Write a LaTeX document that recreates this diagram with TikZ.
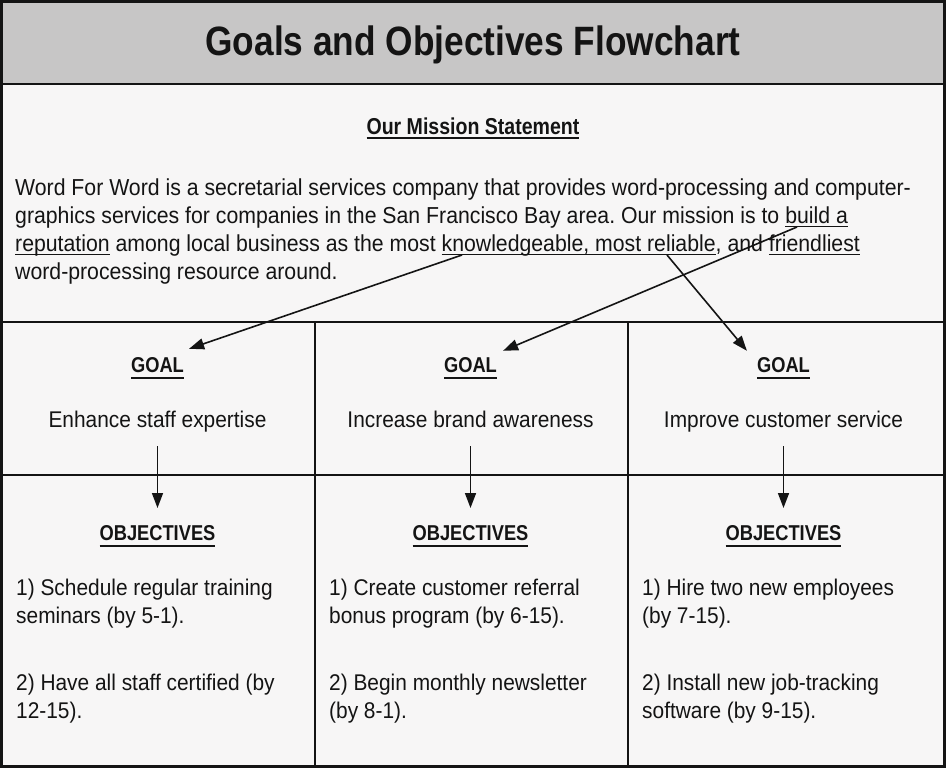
\documentclass[tikz,border=0pt]{standalone}
\usepackage{fontspec}
\setmainfont{Liberation Sans}[FakeStretch=0.92]
\newfontfamily\boldfam{Liberation Sans Bold}[FakeStretch=0.85]
\newfontfamily\titlefam{Liberation Sans Bold}[FakeStretch=0.86]
\usetikzlibrary{arrows.meta}
\frenchspacing
\definecolor{paper}{HTML}{F7F6F6}
\definecolor{band}{HTML}{C7C6C6}
\definecolor{ink}{HTML}{141414}
\newsavebox\ulbox
\newcommand\ulthin[1]{\sbox\ulbox{#1}\rlap{\rule[-4pt]{\wd\ulbox}{1.5pt}}\usebox\ulbox}
\newcommand\ulbold[1]{\sbox\ulbox{#1}\rlap{\rule[-6.5pt]{\wd\ulbox}{2pt}}\usebox\ulbox}
\tikzset{
  x=1pt, y=-1pt,
  frame/.style={draw=ink, line width=2.5pt},
  rule/.style={draw=ink, line width=2pt},
  txt/.style={inner sep=0pt, text=ink, font=\fontsize{22.7}{28}\selectfont},
  bodytxt/.style={txt, font=\fontsize{23.1}{28}\selectfont},
  hd/.style={inner sep=0pt, text=ink, font=\boldfam\fontsize{21.5}{26}\selectfont},
  ttl/.style={inner sep=0pt, text=ink, font=\titlefam\fontsize{41}{48}\selectfont},
  arr/.style={draw=ink, line width=1.6pt, -{Triangle[length=15pt,width=11pt]}},
}
\begin{document}
\begin{tikzpicture}
\useasboundingbox (0,0) rectangle (946,768);
\fill[paper] (0,0) rectangle (946,768);
\fill[band] (1.5,1.5) rectangle (944.5,84);
% grid lines
\draw[frame] (1.5,84) -- (944.5,84);
\draw[rule] (1.5,322) -- (944.5,322);
\draw[rule] (1.5,475) -- (944.5,475);
\draw[rule] (315,322) -- (315,766.5);
\draw[rule] (628,322) -- (628,766.5);
\draw[frame] (1.5,1.5) rectangle (944.5,766.5);

% title
\node[ttl, anchor=base] (title) at (473,56) {Goals and Objectives Flowchart};

% mission
\node[hd, anchor=base, font=\boldfam\fontsize{23}{28}\selectfont] (mission) at (473,135) {\ulthin{Our Mission Statement}};
\node[bodytxt, anchor=base west] (b1) at (15,195) {Word For Word is a secretarial services company that provides word-processing and computer-};
\node[bodytxt, anchor=base west] (b2) at (15,223) {graphics services for companies in the San Francisco Bay area. Our mission is to \ulthin{build a}};
\node[bodytxt, anchor=base west] (b3) at (15,251) {\ulthin{reputation} among local business as the most \ulthin{knowledgeable, most reliable}, and \ulthin{friendliest}};
\node[bodytxt, anchor=base west] (b4) at (15,279) {word-processing resource around.};

\coordinate (kw) at (462,255);
\coordinate (bd) at (797,227);
\coordinate (rl) at (667,255);

% goals
\node[hd, anchor=base] (g1) at (157.5,372) {\ulbold{GOAL}};
\node[hd, anchor=base] (g2) at (470.5,372) {\ulbold{GOAL}};
\node[hd, anchor=base] (g3) at (783.5,372) {\ulbold{GOAL}};
\node[txt, anchor=base] (gt1) at (157.5,427.5) {Enhance staff expertise};
\node[txt, anchor=base] (gt2) at (470.5,427.5) {Increase brand awareness};
\node[txt, anchor=base] (gt3) at (783.5,427.5) {Improve customer service};

% objectives
\node[hd, anchor=base] (o1) at (157.5,540) {\ulbold{OBJECTIVES}};
\node[hd, anchor=base] (o2) at (470.5,540) {\ulbold{OBJECTIVES}};
\node[hd, anchor=base] (o3) at (783.5,540) {\ulbold{OBJECTIVES}};

\node[txt, anchor=base west] (c1a) at (16,595) {1) Schedule regular training};
\node[txt, anchor=base west] (c1b) at (16,623) {seminars (by 5-1).};
\node[txt, anchor=base west] (c1c) at (16,690) {2) Have all staff certified (by};
\node[txt, anchor=base west] (c1d) at (16,718) {12-15).};

\node[txt, anchor=base west] (c2a) at (329,595) {1) Create customer referral};
\node[txt, anchor=base west] (c2b) at (329,623) {bonus program (by 6-15).};
\node[txt, anchor=base west] (c2c) at (329,690) {2) Begin monthly newsletter};
\node[txt, anchor=base west] (c2d) at (329,718) {(by 8-1).};

\node[txt, anchor=base west] (c3a) at (642,595) {1) Hire two new employees};
\node[txt, anchor=base west] (c3b) at (642,623) {(by 7-15).};
\node[txt, anchor=base west] (c3c) at (642,690) {2) Install new job-tracking};
\node[txt, anchor=base west] (c3d) at (642,718) {software (by 9-15).};

% connectors
\draw[arr] (kw) -- ([shift={(5,-8)}]g1.north east);
\draw[arr] (bd) -- ([shift={(6,-6)}]g2.north east);
\draw[arr] (rl) -- ([shift={(-10,-6)}]g3.north west);
\draw[arr] ([yshift=-18.5pt]gt1.base) -- ([yshift=32pt]o1.base);
\draw[arr] ([yshift=-18.5pt]gt2.base) -- ([yshift=32pt]o2.base);
\draw[arr] ([yshift=-18.5pt]gt3.base) -- ([yshift=32pt]o3.base);
\end{tikzpicture}
\end{document}
